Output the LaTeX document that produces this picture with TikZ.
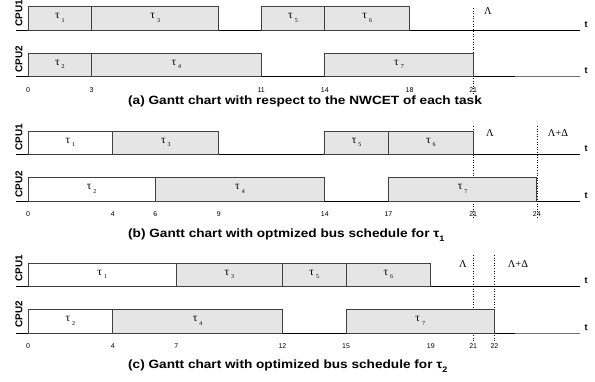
\documentclass[tikz,border=0pt]{standalone}
\usepackage{fontspec}
\setmainfont{Liberation Serif}
\setsansfont{Liberation Sans}
\newfontfamily\capfont{Liberation Sans}[FakeStretch=1.14]
\newfontfamily\cpufont{Liberation Sans}[FakeStretch=1.0]
\newcommand{\tx}[1]{28+21.2*#1}
\newcommand{\tsk}[7]{%
  \draw[#2] ({\tx{#3}},#5) rectangle ({\tx{#4}},#6);
  \node[tasklab] (#1) at ({(\tx{#3}+\tx{#4})/2},{(#5+#6)/2}) {τ\hspace{2pt}\raisebox{-3.5pt}{\fontsize{6}{6}\selectfont #7}};}
\begin{document}
\begin{tikzpicture}[x=1bp,y=-1bp,
  graybox/.style={draw=black!75,fill=black!10,line width=0.8pt},
  whitebox/.style={draw=black!75,fill=white,line width=0.8pt},
  axisline/.style={line width=0.8pt},
  tlab/.style={font=\sffamily\bfseries\fontsize{9}{10}\selectfont,inner sep=0pt},
  cpulab/.style={font=\cpufont\bfseries\fontsize{10}{11}\selectfont,rotate=90,anchor=west,inner sep=0pt},
  ticklab/.style={font=\sffamily\fontsize{7}{8}\selectfont,inner sep=0pt},
  caplab/.style={font=\capfont\bfseries\fontsize{12}{14}\selectfont,anchor=west,inner sep=0pt},
  tasklab/.style={font=\rmfamily\fontsize{11.5}{13}\selectfont,inner sep=0pt},
  dlab/.style={font=\rmfamily\fontsize{10.5}{12}\selectfont,inner sep=0pt},
  deadline/.style={dotted,line width=0.6pt}]
\useasboundingbox (0,0) rectangle (595,381);

% ---------------- (a) ----------------
\draw[deadline] ({\tx{21}},8) -- ({\tx{21}},94);
\draw[axisline] (16,30) -- (580,30);
\draw[axisline] (16,76) -- (515,76);
\draw[line width=0.8pt,black!55] (515,76) -- (580,76);
\node[tlab] (ta1) at (586,25) {t};
\node[tlab] (ta2) at (586,71) {t};
\node[cpulab] (ca1) at (19,27) {CPU1};
\node[cpulab] (ca2) at (19,73) {CPU2};
\tsk{a1}{graybox}{0}{3}{6}{30}{1}
\tsk{a3}{graybox}{3}{9}{6}{30}{3}
\tsk{a5}{graybox}{11}{14}{6}{30}{5}
\tsk{a6}{graybox}{14}{18}{6}{30}{6}
\tsk{a2}{graybox}{0}{3}{53}{76}{2}
\tsk{a4}{graybox}{3}{11}{53}{76}{4}
\tsk{a7}{graybox}{14}{21}{53}{76}{7}
\node[ticklab] (xa0) at ({\tx{0}},90) {0};
\node[ticklab] (xa3) at ({\tx{3}},90) {3};
\node[ticklab] (xa11) at ({\tx{11}},90) {11};
\node[ticklab] (xa14) at ({\tx{14}},90) {14};
\node[ticklab] (xa18) at ({\tx{18}},90) {18};
\node[ticklab] (xa21) at ({\tx{21}},90) {21};
\node[dlab] (la) at (488,11) {Λ};
\node[caplab] (capa) at (128,101) {(a) Gantt chart with respect to the NWCET of each task};

% ---------------- (b) ----------------
\draw[deadline] ({\tx{21}},126) -- ({\tx{21}},217);
\draw[deadline] ({\tx{24}},126) -- ({\tx{24}},217);
\draw[axisline] (16,154) -- (580,154);
\draw[axisline] (16,201) -- (580,201);
\node[tlab] (tb1) at (586,149) {t};
\node[tlab] (tb2) at (586,196) {t};
\node[cpulab] (cb1) at (19,151) {CPU1};
\node[cpulab] (cb2) at (19,198) {CPU2};
\tsk{b1}{whitebox}{0}{4}{131}{154}{1}
\tsk{b3}{graybox}{4}{9}{131}{154}{3}
\tsk{b5}{graybox}{14}{17}{131}{154}{5}
\tsk{b6}{graybox}{17}{21}{131}{154}{6}
\tsk{b2}{whitebox}{0}{6}{177}{201}{2}
\tsk{b4}{graybox}{6}{14}{177}{201}{4}
\tsk{b7}{graybox}{17}{24}{177}{201}{7}
\node[ticklab] (xb0) at ({\tx{0}},214) {0};
\node[ticklab] (xb4) at ({\tx{4}},214) {4};
\node[ticklab] (xb6) at ({\tx{6}},214) {6};
\node[ticklab] (xb9) at ({\tx{9}},214) {9};
\node[ticklab] (xb14) at ({\tx{14}},214) {14};
\node[ticklab] (xb17) at ({\tx{17}},214) {17};
\node[ticklab] (xb21) at ({\tx{21}},214) {21};
\node[ticklab] (xb24) at ({\tx{24}},214) {24};
\node[dlab] (lb) at (490,133) {Λ};
\node[dlab] (lbd) at (558,133) {Λ+Δ};
\node[caplab] (capb) at (128,235) {(b) Gantt chart with optmized bus schedule for τ\raisebox{-3.5pt}{\fontsize{8}{9}\selectfont 1}};

% ---------------- (c) ----------------
\draw[deadline] ({\tx{21}},255) -- ({\tx{21}},343);
\draw[deadline] ({\tx{22}},255) -- ({\tx{22}},343);
\draw[axisline] (16,286) -- (580,286);
\draw[axisline] (16,333) -- (515,333);
\draw[line width=0.8pt,black!55] (515,333) -- (580,333);
\node[tlab] (tc1) at (586,281) {t};
\node[tlab] (tc2) at (586,328) {t};
\node[cpulab] (cc1) at (19,282) {CPU1};
\node[cpulab] (cc2) at (19,328) {CPU2};
\tsk{c1}{whitebox}{0}{7}{263}{286}{1}
\tsk{c3}{graybox}{7}{12}{263}{286}{3}
\tsk{c5}{graybox}{12}{15}{263}{286}{5}
\tsk{c6}{graybox}{15}{19}{263}{286}{6}
\tsk{c2}{whitebox}{0}{4}{309}{333}{2}
\tsk{c4}{graybox}{4}{12}{309}{333}{4}
\tsk{c7}{graybox}{15}{22}{309}{333}{7}
\node[ticklab] (xc0) at ({\tx{0}},346) {0};
\node[ticklab] (xc4) at ({\tx{4}},346) {4};
\node[ticklab] (xc7) at ({\tx{7}},346) {7};
\node[ticklab] (xc12) at ({\tx{12}},346) {12};
\node[ticklab] (xc15) at ({\tx{15}},346) {15};
\node[ticklab] (xc19) at ({\tx{19}},346) {19};
\node[ticklab] (xc21) at ({\tx{21}},346) {21};
\node[ticklab] (xc22) at ({\tx{22}},346) {22};
\node[dlab] (lc) at (463,264) {Λ};
\node[dlab] (lcd) at (518,264) {Λ+Δ};
\node[caplab] (capc) at (128,366) {(c) Gantt chart with optimized bus schedule for τ\raisebox{-3.5pt}{\fontsize{8}{9}\selectfont 2}};
\end{tikzpicture}
\end{document}
